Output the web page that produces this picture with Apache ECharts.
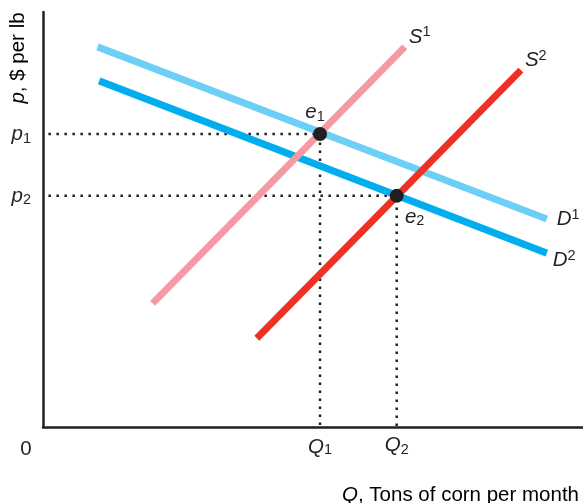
<!DOCTYPE html>
<html><head><meta charset="utf-8">
<script src="https://cdn.jsdelivr.net/npm/echarts@6/dist/echarts.min.js"></script>
<style>html,body{margin:0;padding:0;background:#fff}#c{width:583px;height:503px}</style>
</head><body><div id="c"></div>
<script>
// ---- data (chart units: quantity 0-100, price 0-100) ----
const D1 = [[10.1, 91.6], [93.3, 50.1]];
const D2 = [[10.4, 83.4], [93.3, 41.9]];
const S1 = [[20.3, 29.8], [67.0, 91.6]];
const S2 = [[39.6, 21.4], [88.5, 86.0]];
const equilibria = [[51.3, 70.6], [65.5, 55.7]];   // e1, e2
const equilibriumNames = ['e1', 'e2'];
const priceTicks = [70.6, 55.7];                   // p1, p2
const priceTickNames = ['p1', 'p2'];
const quantityTicks = [0, 51.3, 65.5];             // 0, Q1, Q2
const quantityTickNames = ['0', 'Q1', 'Q2'];
const yTitle = ['p', ', $ per lb'];
const xTitle = ['Q', ', Tons of corn per month'];

// ---- styles ----
const FONT = "'Liberation Sans', Arial, Helvetica, sans-serif";
const INK = '#231f20';
const rich = {
  i:   {fontFamily: FONT, fontSize: 20.5, fontStyle: 'italic', color: INK, lineHeight: 24},
  n:   {fontFamily: FONT, fontSize: 20.5, color: INK, lineHeight: 24},
  sub: {fontFamily: FONT, fontSize: 14.5, color: INK, lineHeight: 24, verticalAlign: 'bottom'},
  sup: {fontFamily: FONT, fontSize: 14.5, color: INK, lineHeight: 24, verticalAlign: 'top'},
  iL:  {fontFamily: FONT, fontSize: 20.5, fontStyle: 'italic', color: INK, lineHeight: 24, padding: [4, 0, 0, 0]},
  subL:{fontFamily: FONT, fontSize: 14.5, color: INK, lineHeight: 24, verticalAlign: 'bottom', padding: [4, 0, 0, 0]},
  z:   {fontFamily: FONT, fontSize: 20.5, color: INK, lineHeight: 24, padding: [8, 34, 0, 0]}
};
function subLabel(name, a, b) { return '{' + (a || 'i') + '|' + name[0] + '}{' + (b || 'sub') + '|' + name.slice(1) + '}'; }
function supLabel(name) { return '{i|' + name[0] + '}{sup|' + name.slice(1) + '}'; }

const chart = echarts.init(document.getElementById('c'), null, {renderer: 'canvas'});

function curve(name, data, color, labelOffset) {
  return {
    type: 'line', name: name, data: data, symbol: 'none', silent: true, z: 3,
    lineStyle: {color: color, width: 7, cap: 'butt'},
    endLabel: {show: true, formatter: supLabel(name), rich: rich, distance: 0, offset: labelOffset}
  };
}
function guide(pt) {
  return {
    type: 'line', data: [[1, pt[1]], [pt[0], pt[1]], [pt[0], 0]], symbol: 'none', silent: true, z: 2,
    lineStyle: {color: INK, width: 2.5, type: [2.5, 5.5], cap: 'butt'}
  };
}

chart.setOption({
  animation: false,
  grid: {left: 43, right: 0, top: 12, bottom: 76, containLabel: false},
  xAxis: {
    type: 'value', min: 0, max: 100,
    splitLine: {show: false},
    axisLine: {onZero: false, lineStyle: {color: INK, width: 2.5}},
    axisTick: {show: false},
    axisLabel: {
      customValues: quantityTicks, margin: 6, rich: rich,
      formatter: function (v) {
        const k = quantityTicks.indexOf(v);
        const nm = quantityTickNames[k];
        if (k === 0) return '{z|' + nm + '}';
        if (k === 1) return subLabel(nm, 'iL', 'subL');
        return subLabel(nm);
      }
    }
  },
  yAxis: {
    type: 'value', min: 0, max: 100,
    splitLine: {show: false},
    axisLine: {onZero: false, lineStyle: {color: INK, width: 2.5}},
    axisTick: {show: false},
    axisLabel: {
      customValues: priceTicks, margin: 12, rich: rich,
      formatter: function (v) { return subLabel(priceTickNames[priceTicks.indexOf(v)]); }
    }
  },
  series: [
    guide(equilibria[0]),
    guide(equilibria[1]),
    curve('D1', D1, '#6dcff6', [10, 0]),
    curve('D2', D2, '#00aeef', [6, 7]),
    curve('S1', S1, '#f59aa5', [4, -10]),
    curve('S2', S2, '#ee3124', [4, -10]),
    {
      type: 'scatter', data: equilibria, symbol: 'circle', symbolSize: 14, z: 5, silent: true,
      itemStyle: {color: INK, opacity: 1},
      label: {
        show: true, rich: rich,
        formatter: function (p) { return subLabel(equilibriumNames[p.dataIndex]); }
      },
      labelLayout: function (p) {
        return p.dataIndex === 0 ? {dx: -5, dy: -22} : {dx: 18, dy: 21};
      }
    }
  ],
  graphic: [
    {
      type: 'text', x: 18, y: 58, rotation: Math.PI / 2, silent: true,
      style: {
        text: '{i|' + yTitle[0] + '}{n|' + yTitle[1] + '}', rich: rich,
        align: 'center', verticalAlign: 'middle'
      }
    },
    {
      type: 'text', x: 579, y: 495, silent: true,
      style: {
        text: '{i|' + xTitle[0] + '}{n|' + xTitle[1] + '}', rich: rich,
        align: 'right', verticalAlign: 'middle'
      }
    }
  ]
});
</script></body></html>
